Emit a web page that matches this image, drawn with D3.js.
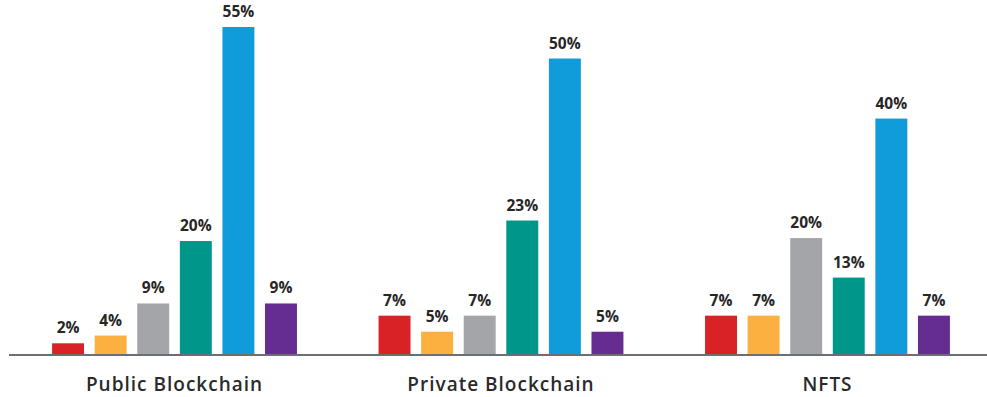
<!DOCTYPE html>
<head>
  <title>Blockchain bars</title>
</head>
<style>
html, body {
  margin: 0;
  padding: 0;
  background: #ffffff;
}
.value {
  font-family: "Open Sans", sans-serif;
  font-weight: 700;
  font-size: 15.5px;
  fill: #262626;
  text-anchor: middle;
}
.cat {
  font-family: "Open Sans", sans-serif;
  font-weight: 600;
  font-size: 19px;
  letter-spacing: 1px;
  fill: #2a2a2a;
  text-anchor: middle;
}
</style>
<svg width="987" height="397"></svg>
<script src="https://d3js.org/d3.v7.min.js"></script>
<script>
var categories = ["Public Blockchain", "Private Blockchain", "NFTS"];
var seriesNames = ["s1", "s2", "s3", "s4", "s5", "s6"];
var seriesColors = ["#d92226", "#fbb040", "#a3a5a8", "#00968a", "#109cda", "#652d90"];

// bar heights, in series order
var publicBlockchain = [1.8, 3.1, 8.5, 19.0, 55.0, 8.5];
var privateBlockchain = [6.45, 3.75, 6.45, 22.45, 49.7, 3.75];
var nfts = [6.45, 6.45, 19.5, 12.85, 39.6, 6.45];
var values = [publicBlockchain, privateBlockchain, nfts];

// printed labels
var publicLabels = [2, 4, 9, 20, 55, 9];
var privateLabels = [7, 5, 7, 23, 50, 5];
var nftsLabels = [7, 7, 20, 13, 40, 7];
var labels = [publicLabels, privateLabels, nftsLabels];

var svg = d3.select("svg");
var baseY = 354;

var x0 = d3.scaleBand()
  .domain(categories)
  .range([9, 993])
  .paddingInner(0.25)
  .paddingOuter(0.132);

var x1 = d3.scaleBand()
  .domain(seriesNames)
  .range([0, x0.bandwidth()])
  .paddingInner(0.25)
  .paddingOuter(0);

var y = d3.scaleLinear()
  .domain([0, 55])
  .range([baseY, 27]);

var groups = svg.selectAll("g.group")
  .data(categories)
  .enter().append("g")
    .attr("class", "group")
    .attr("transform", function(d) { return "translate(" + x0(d) + ",0)"; });

function rows(i) {
  return values[i].map(function(v, j) {
    return {s: seriesNames[j], v: v, c: seriesColors[j], label: labels[i][j]};
  });
}

groups.selectAll("rect")
  .data(function(d, i) { return rows(i); })
  .enter().append("rect")
    .attr("x", function(d) { return x1(d.s); })
    .attr("width", x1.bandwidth())
    .attr("y", function(d) { return y(d.v); })
    .attr("height", function(d) { return baseY - y(d.v); })
    .attr("fill", function(d) { return d.c; });

groups.selectAll("text.value")
  .data(function(d, i) { return rows(i); })
  .enter().append("text")
    .attr("class", "value")
    .attr("x", function(d) { return x1(d.s) + x1.bandwidth() / 2; })
    .attr("y", function(d) { return y(d.v) - 10; })
    .text(function(d) { return d.label + "%"; });

// baseline
svg.append("line")
  .attr("x1", 9)
  .attr("x2", 987)
  .attr("y1", baseY + 1)
  .attr("y2", baseY + 1)
  .attr("stroke", "#6b6e73")
  .attr("stroke-width", 2);

svg.selectAll("text.cat")
  .data(categories)
  .enter().append("text")
    .attr("class", "cat")
    .attr("x", function(d) { return x0(d) + x0.bandwidth() / 2; })
    .attr("y", 391)
    .text(function(d) { return d; });
</script>
